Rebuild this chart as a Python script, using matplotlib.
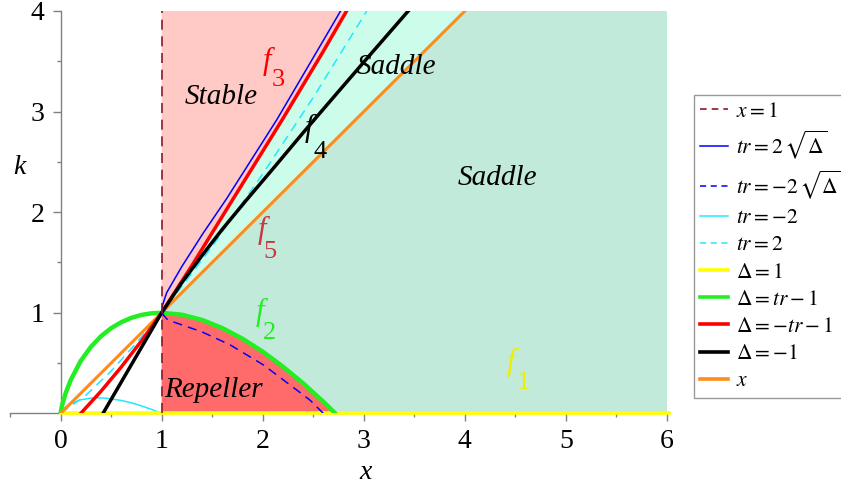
import matplotlib
matplotlib.use("Agg")
import matplotlib.pyplot as plt

plt.rcParams["font.family"] = ["Liberation Serif", "DejaVu Serif"]
plt.rcParams["mathtext.fontset"] = "stix"

# ---- curve samples in the (x, k) plane ----
# x = 1 boundary
vline_x = [1.0, 1.0]
vline_k = [0.0, 4.0]

# tr = 2*sqrt(Delta)
blue_x = [1.0, 1.01, 1.05, 1.2, 1.41, 1.64, 2.14, 2.66, 2.77]
blue_k = [1.0, 1.08, 1.2, 1.46, 1.79, 2.13, 2.92, 3.81, 4.0]

# tr = -2*sqrt(Delta)
bdash_x = [1.0, 1.05, 1.1, 1.2, 1.4, 1.68, 2.01, 2.34, 2.47, 2.6]
bdash_k = [1.0, 0.94, 0.915, 0.88, 0.81, 0.68, 0.48, 0.23, 0.13, 0.0]

# tr = -2
cyan_x = [0.0, 0.02, 0.05, 0.1, 0.2, 0.3, 0.37, 0.45, 0.6, 0.7, 0.8, 0.9, 1.0]
cyan_k = [0.0, 0.033, 0.063, 0.097, 0.135, 0.152, 0.155, 0.151, 0.129, 0.105, 0.075, 0.04, 0.0]

# tr = 2
cdash_x = [0.0, 0.25, 0.5, 0.75, 1.0, 1.5, 2.0, 2.5, 3.03]
cdash_k = [0.0, 0.18, 0.42, 0.70, 1.0, 1.66, 2.38, 3.14, 4.0]

# Delta = 1
yel_x = [0.0, 6.02]
yel_k = [0.0, 0.0]

# Delta = tr - 1
grn_x = [0.0, 0.01, 0.02, 0.05, 0.1, 0.2, 0.3, 0.4, 0.5, 0.6, 0.7, 0.8, 0.9, 1.0,
         1.2, 1.4, 1.6, 1.8, 2.0, 2.2, 2.4, 2.6, 2.718]
grn_k = [0.0, 0.056, 0.098, 0.2, 0.33, 0.522, 0.661, 0.767, 0.847, 0.906, 0.95, 0.979, 0.995, 1.0,
         0.981, 0.929, 0.848, 0.742, 0.614, 0.465, 0.299, 0.116, 0.0]

# Delta = -tr - 1
red_x = [0.2, 0.4, 0.6, 0.8, 1.0, 1.3, 1.7, 2.2, 2.6, 2.83]
red_k = [0.0, 0.22, 0.46, 0.72, 1.0, 1.47, 2.12, 2.93, 3.6, 4.0]

# Delta = -1
blk_x = [0.42, 0.71, 1.0, 1.2, 1.4, 1.6, 1.83, 2.1, 2.4, 2.69, 3.05, 3.44]
blk_k = [0.0, 0.5, 1.0, 1.3, 1.57, 1.83, 2.11, 2.43, 2.79, 3.13, 3.55, 4.0]

# k = x
org_x = [0.0, 4.0]
org_k = [0.0, 4.0]

fig = plt.figure(figsize=(8.41, 4.90), dpi=100)
ax = fig.add_axes([10 / 841, 1 - 413.4 / 490, (667 - 10) / 841, (413.4 - 11) / 490])
ax.set_xlim(-0.5, 6.0)
ax.set_ylim(0, 4)
ax.patch.set_alpha(0)

# ---- shaded regions ----
red_up_x = [x for x in red_x if x >= 1.0]
red_up_k = [k for x, k in zip(red_x, red_k) if x >= 1.0]
grn_r_x = [x for x in grn_x if x >= 1.0]
grn_r_k = [k for x, k in zip(grn_x, grn_k) if x >= 1.0]

# stable
ax.fill([1.0, 1.0] + red_up_x[::-1], [1.0, 4.0] + red_up_k[::-1],
        color="#FFC9C6", lw=0, zorder=1)
# saddle (between red and k = x)
ax.fill(red_up_x + [org_x[1], 1.0], red_up_k + [org_k[1], 1.0],
        color="#CCFDEB", lw=0, zorder=1)
# saddle (right)
ax.fill([1.0, org_x[1], 6.0, 6.0] + grn_r_x[::-1],
        [1.0, org_k[1], 4.0, 0.0] + grn_r_k[::-1],
        color="#C2EADB", lw=0, zorder=1)
# repeller
ax.fill(grn_r_x + [1.0], grn_r_k + [0.0], color="#FF6B6B", lw=0, zorder=1)

# ---- curves ----
ax.plot(cyan_x, cyan_k, color="#22E8FF", lw=1.1, zorder=3)
ax.plot(cdash_x, cdash_k, color="#22E8FF", lw=1.1, ls=(0, (6, 4)), zorder=3)
ax.plot(yel_x, yel_k, color="#FFFF00", lw=2.6, zorder=4, clip_on=False)
ax.plot(grn_x, grn_k, color="#22EE22", lw=3.2, zorder=4)
ax.plot(org_x, org_k, color="#FF8C1A", lw=2.2, zorder=5)
ax.plot(red_x, red_k, color="#FF0000", lw=2.5, zorder=5)
ax.plot(blk_x, blk_k, color="#000000", lw=2.5, zorder=6)
ax.plot(blue_x, blue_k, color="#0000FF", lw=1.1, zorder=6)
ax.plot(bdash_x, bdash_k, color="#0000FF", lw=1.1, ls=(0, (6, 4)), zorder=6)
ax.plot(vline_x, vline_k, color="#8B1A2A", lw=1.2, ls=(0, (6, 4)), zorder=7)

# ---- axes in the crossing style ----
for s in ("top", "right"):
    ax.spines[s].set_visible(False)
ax.spines["left"].set_position(("data", 0))
ax.spines["bottom"].set_position(("data", 0))
for s in ("left", "bottom"):
    ax.spines[s].set_color("#808080")
    ax.spines[s].set_linewidth(1.0)
ax.set_xticks([0, 1, 2, 3, 4, 5, 6])
ax.set_xticks([-0.5, 0.5, 1.5, 2.5, 3.5, 4.5, 5.5], minor=True)
ax.set_yticks([1, 2, 3, 4])
ax.set_yticks([0.5, 1.5, 2.5, 3.5], minor=True)
ax.tick_params(which="major", direction="out", length=5.5, width=1.0, color="#808080",
               labelsize=20, pad=6)
ax.tick_params(which="minor", direction="out", length=3.2, width=1.0, color="#808080")

ax.text(-0.41, 2.44, "k", fontsize=20, style="italic", ha="center", va="center")
ax.text(3.02, -0.59, "x", fontsize=20, style="italic", ha="center", va="center",
        clip_on=False)

# ---- region labels ----
lab = dict(fontsize=21, style="italic", ha="center", va="center", zorder=8)
ax.text(1.59, 3.15, "Stable", **lab)
ax.text(3.32, 3.44, "Saddle", **lab)
ax.text(4.32, 2.34, "Saddle", **lab)
ax.text(1.51, 0.23, "Repeller", **lab)

# ---- curve names ----
def fname(xf, kf, xs, ks, digit, color):
    ax.text(xf, kf, "f", fontsize=22, style="italic", color=color,
            ha="center", va="center", zorder=8)
    ax.text(xs, ks, digit, fontsize=19, color=color, ha="center", va="center", zorder=8)

fname(2.045, 3.50, 2.157, 3.31, "3", "#FF0000")
fname(2.46, 2.83, 2.57, 2.60, "4", "#000000")
fname(1.995, 1.82, 2.07, 1.607, "5", "#C8373C")
fname(1.97, 1.0, 2.07, 0.796, "2", "#22EE22")
fname(4.46, 0.51, 4.58, 0.30, "1", "#EEEE00")

# ---- legend ----
handles = [
    plt.Line2D([], [], color="#8B1A2A", lw=1.2, ls=(0, (4, 3))),
    plt.Line2D([], [], color="#0000FF", lw=1.1),
    plt.Line2D([], [], color="#0000FF", lw=1.1, ls=(0, (4, 3))),
    plt.Line2D([], [], color="#22E8FF", lw=1.1),
    plt.Line2D([], [], color="#22E8FF", lw=1.1, ls=(0, (4, 3))),
    plt.Line2D([], [], color="#FFFF00", lw=2.6),
    plt.Line2D([], [], color="#22EE22", lw=2.6),
    plt.Line2D([], [], color="#FF0000", lw=2.6),
    plt.Line2D([], [], color="#000000", lw=2.6),
    plt.Line2D([], [], color="#FF8C1A", lw=2.6),
]
labels = [r"$x = 1$", r"$tr = 2\,\sqrt{\Delta}$", r"$tr = -2\,\sqrt{\Delta}$",
          r"$tr = -2$", r"$tr = 2$", r"$\Delta = 1$", r"$\Delta = tr - 1$",
          r"$\Delta = -tr - 1$", r"$\Delta = -1$", r"$x$"]
leg = fig.legend(handles, labels, loc="upper left",
                 bbox_to_anchor=(694 / 841, 1 - 95 / 490), fontsize=15.5,
                 frameon=True, fancybox=False, edgecolor="#808080",
                 handlelength=1.3, handletextpad=0.35, labelspacing=0.33,
                 borderpad=0.3, borderaxespad=0)
leg.get_frame().set_linewidth(1.0)

fig.savefig("out.png", dpi=100)
